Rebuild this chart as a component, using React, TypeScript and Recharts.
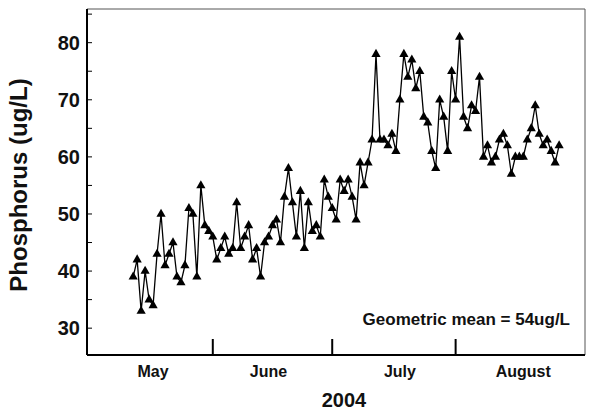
import { LineChart, Line, XAxis, YAxis, ReferenceLine, Label } from "recharts";

// sampling days counted from May 1 (May 1 = day 0)
const firstSampleDay = 11;
const phosphorus = [
  39, 42, 33, 40, 35, 34, 43, 50, 41, 43,
  45, 39, 38, 41, 51, 50, 39, 55, 48, 47,
  46, 42, 44, 46, 43, 44, 52, 44, 46, 48,
  42, 44, 39, 45, 46, 48, 49, 45, 53, 58,
  52, 46, 54, 44, 52, 47, 48, 46, 56, 53,
  51, 49, 56, 54, 56, 53, 49, 59, 55, 59,
  63, 78, 63, 63, 62, 64, 61, 70, 78, 74,
  77, 72, 75, 67, 66, 61, 58, 70, 67, 61,
  75, 70, 81, 67, 65, 69, 68, 74, 60, 62,
  59, 60, 63, 64, 62, 57, 60, 60, 60, 63,
  65, 69, 64, 62, 63, 61, 59, 62,
];

const monthStarts = [31, 61, 92];
const monthNames = ["May", "June", "July", "August"];
const monthLabelDays = [16, 45, 78, 109];
const yTicks = [30, 35, 40, 45, 50, 55, 60, 65, 70, 75, 80, 85];

const xDomain: [number, number] = [-0.6, 124.5];
const yDomain: [number, number] = [25.3, 85.9];

const data = phosphorus.map((p, i) => ({ day: firstSampleDay + i, p }));

const FONT = "'Liberation Sans', Arial, Helvetica, sans-serif";

function XTick(props: any) {
  const { x, y, payload } = props;
  const v = payload.value;
  if (monthStarts.includes(v)) {
    return <line x1={x} x2={x} y1={y} y2={y - 16} stroke="#000" strokeWidth={2} />;
  }
  const idx = monthLabelDays.indexOf(v);
  return (
    <text x={x} y={y + 22} textAnchor="middle" fontFamily={FONT} fontWeight="bold" fontSize={16} fill="#111">
      {monthNames[idx]}
    </text>
  );
}

function YTick(props: any) {
  const { x, y, payload } = props;
  const v = payload.value;
  return (
    <g>
      <line x1={x} x2={x + 5} y1={y} y2={y} stroke="#000" strokeWidth={1} />
      {v % 10 === 0 && v <= 80 && (
        <text x={x - 7} y={y + 7} textAnchor="end" fontFamily={FONT} fontWeight="bold" fontSize={20} fill="#111">
          {v}
        </text>
      )}
    </g>
  );
}

function Triangle(props: any) {
  const { cx, cy, index } = props;
  if (cx == null || cy == null) return <g key={index} />;
  return (
    <polygon
      key={index}
      points={`${cx},${cy - 5.3} ${cx - 4.6},${cy + 2.8} ${cx + 4.6},${cy + 2.8}`}
      fill="#000"
    />
  );
}

export default function App() {
  return (
    <div style={{ position: "absolute", left: 0, top: 0, background: "#fff" }}>
      <LineChart width={598} height={413} data={data} margin={{ top: 9, right: 13, bottom: 0, left: 0 }}>
        <XAxis
          type="number"
          dataKey="day"
          domain={xDomain}
          allowDataOverflow
          ticks={[...monthStarts, ...monthLabelDays]}
          interval={0}
          tick={<XTick />}
          tickLine={false}
          tickSize={0}
          tickMargin={0}
          axisLine={{ stroke: "#000", strokeWidth: 2 }}
          height={58}
          label={
            <Label
              content={() => (
                <text x={344} y={407} textAnchor="middle" fontFamily={FONT} fontWeight="bold" fontSize={20} fill="#111">
                  2004
                </text>
              )}
            />
          }
        />
        <YAxis
          type="number"
          domain={yDomain}
          allowDataOverflow
          ticks={yTicks}
          interval={0}
          tick={<YTick />}
          tickLine={false}
          tickSize={0}
          tickMargin={0}
          axisLine={{ stroke: "#000", strokeWidth: 2 }}
          width={87}
          label={
            <Label
              content={() => (
                <text
                  x={27}
                  y={185}
                  transform="rotate(-90 27 185)"
                  textAnchor="middle"
                  fontFamily={FONT}
                  fontWeight="bold"
                  fontSize={24}
                  fill="#111"
                >
                  Phosphorus (ug/L)
                </text>
              )}
            />
          }
        />
        <ReferenceLine y={yDomain[1]} stroke="#555" strokeWidth={1} />
        <ReferenceLine x={xDomain[1]} stroke="#555" strokeWidth={1} />
        <ReferenceLine
          y={yDomain[0]}
          stroke="none"
          label={
            <Label
              content={() => (
                <text x={570} y={325} textAnchor="end" fontFamily={FONT} fontWeight="bold" fontSize={17} fill="#111">
                  Geometric mean = 54ug/L
                </text>
              )}
            />
          }
        />
        <Line
          type="linear"
          dataKey="p"
          stroke="#000"
          strokeWidth={1.3}
          dot={(p: any) => <Triangle key={p.index} {...p} />}
          activeDot={false}
          isAnimationActive={false}
        />
      </LineChart>
    </div>
  );
}
